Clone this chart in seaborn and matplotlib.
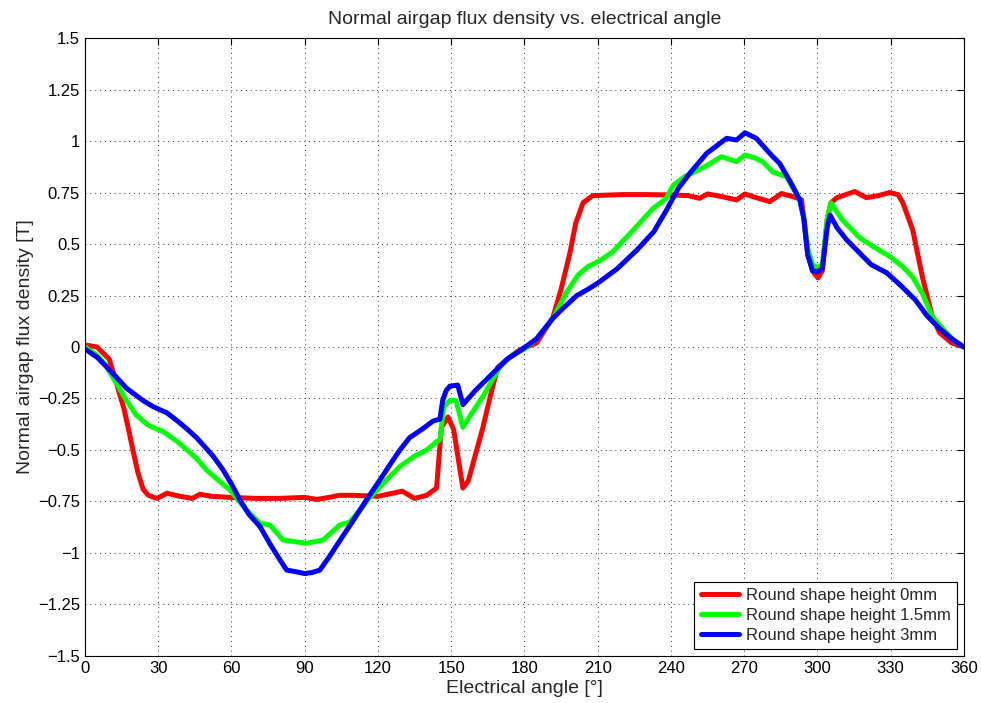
import matplotlib
matplotlib.use("Agg")
import matplotlib.pyplot as plt
import seaborn as sns
import pandas as pd

# data
angle_0mm = [0, 5, 10, 13, 16, 18.4, 20, 21.7, 23.8, 26, 29.5, 33.6, 39, 44, 47.1, 52, 59.4, 70,
             80, 90, 95, 100, 104.4, 110, 120, 130, 135, 140, 144, 146, 148.7, 151, 154.8, 157,
             160, 163, 166, 169, 175, 178, 185, 191.7, 195, 198.6, 201, 204, 208, 220, 230,
             240, 247, 251.8, 255, 261, 266.9, 270.3, 275, 280.5, 285.3, 290, 293.5, 296, 298,
             300.2, 302, 304, 305.5, 308, 315.3, 320, 325, 329.6, 333, 335, 339, 343, 347, 350,
             355, 360]
flux_0mm = [0.01, 0.0, -0.06, -0.18, -0.3, -0.43, -0.52, -0.61, -0.69, -0.72, -0.735, -0.71,
            -0.725, -0.735, -0.715, -0.725, -0.73, -0.735, -0.735, -0.73, -0.74, -0.73, -0.72,
            -0.72, -0.725, -0.70, -0.735, -0.72, -0.685, -0.39, -0.34, -0.40, -0.685, -0.65,
            -0.52, -0.39, -0.24, -0.1, -0.04, -0.015, 0.02, 0.145, 0.28, 0.455, 0.6, 0.70,
            0.735, 0.74, 0.74, 0.738, 0.735, 0.722, 0.743, 0.73, 0.714, 0.743, 0.725, 0.706,
            0.745, 0.73, 0.715, 0.45, 0.37, 0.335, 0.37, 0.62, 0.70, 0.725, 0.755, 0.725,
            0.735, 0.75, 0.74, 0.70, 0.57, 0.34, 0.15, 0.07, 0.02, 0.0]

angle_15mm = [0, 5, 8, 11.6, 16, 21, 26, 32, 38, 45.7, 49.8, 55, 59.4, 66, 71.7, 75.8, 81.2,
              86, 90.8, 97.6, 101, 104.4, 108.5, 112, 116, 120, 124, 129, 135, 140, 144, 145.4,
              147, 149.5, 152, 154.8, 158, 163, 170, 175, 180, 185, 192, 197, 202, 206, 211,
              216, 224, 232.7, 238, 241, 246, 251.8, 256, 260.7, 266.9, 270.3, 274, 277.6,
              281.7, 287.3, 292.8, 294.5, 296, 298, 300, 302, 304, 305.5, 310, 317.4, 324,
              329.6, 335, 339, 343, 347, 352, 356, 360]
flux_15mm = [0.0, -0.04, -0.08, -0.15, -0.24, -0.33, -0.38, -0.41, -0.46, -0.54, -0.597, -0.65,
             -0.694, -0.79, -0.856, -0.864, -0.937, -0.945, -0.953, -0.937, -0.90, -0.864, -0.85,
             -0.80, -0.74, -0.69, -0.64, -0.58, -0.53, -0.50, -0.46, -0.45, -0.29, -0.26, -0.26,
             -0.39, -0.33, -0.24, -0.095, -0.04, -0.01, 0.04, 0.145, 0.26, 0.35, 0.39, 0.42,
             0.46, 0.56, 0.673, 0.72, 0.786, 0.83, 0.862, 0.89, 0.924, 0.90, 0.932, 0.92, 0.90,
             0.85, 0.827, 0.714, 0.62, 0.48, 0.40, 0.385, 0.40, 0.62, 0.70, 0.62, 0.53, 0.48,
             0.44, 0.39, 0.34, 0.26, 0.15, 0.08, 0.03, 0.0]

angle_3mm = [0, 5, 11.6, 17, 23.8, 28, 33.6, 38, 42, 45.7, 48, 52.5, 56.6, 60, 63.5, 67, 71.7,
             76, 79.9, 82.6, 86, 90, 93, 96.2, 100, 104.4, 110, 116, 120, 125, 129, 133, 138,
             142.5, 145.4, 146.5, 148, 149.5, 152.7, 154.8, 160, 166, 172.8, 178, 185, 191.7,
             196, 201.5, 206, 210, 218, 226, 233, 238.2, 243, 247.7, 254.6, 258, 262.8, 266.9,
             270.3, 275, 280.5, 284.6, 289, 292.8, 294.5, 296, 298, 300, 302, 304, 305.2, 308,
             312, 317.4, 322, 328.4, 334, 340, 345, 350, 355, 360]
flux_3mm = [-0.01, -0.05, -0.13, -0.2, -0.26, -0.29, -0.32, -0.36, -0.40, -0.44, -0.47, -0.53,
            -0.597, -0.665, -0.743, -0.81, -0.872, -0.96, -1.034, -1.083, -1.09, -1.10, -1.095,
            -1.083, -1.02, -0.94, -0.84, -0.73, -0.66, -0.57, -0.50, -0.44, -0.40, -0.36,
            -0.35, -0.26, -0.21, -0.19, -0.185, -0.28, -0.21, -0.14, -0.06, -0.02, 0.04, 0.14,
            0.19, 0.25, 0.28, 0.31, 0.38, 0.47, 0.56, 0.665, 0.77, 0.843, 0.94, 0.97, 1.013,
            1.005, 1.04, 1.013, 0.94, 0.89, 0.80, 0.714, 0.62, 0.45, 0.37, 0.365, 0.38, 0.58,
            0.64, 0.58, 0.52, 0.455, 0.40, 0.36, 0.30, 0.23, 0.15, 0.09, 0.04, 0.0]

labels = ["Round shape height 0mm", "Round shape height 1.5mm", "Round shape height 3mm"]
colors = ["#ff0000", "#00ff00", "#0000ff"]

df = pd.concat([
    pd.DataFrame({"angle": angle_0mm, "flux": flux_0mm, "series": labels[0]}),
    pd.DataFrame({"angle": angle_15mm, "flux": flux_15mm, "series": labels[1]}),
    pd.DataFrame({"angle": angle_3mm, "flux": flux_3mm, "series": labels[2]}),
], ignore_index=True)

x_ticks = list(range(0, 361, 30))
y_ticks = [-1.5, -1.25, -1, -0.75, -0.5, -0.25, 0, 0.25, 0.5, 0.75, 1, 1.25, 1.5]
y_tick_labels = ["\u22121.5", "\u22121.25", "\u22121", "\u22120.75", "\u22120.5", "\u22120.25", "0",
                 "0.25", "0.5", "0.75", "1", "1.25", "1.5"]

sns.set_style("white")
plt.rcParams["font.family"] = ["Liberation Sans", "DejaVu Sans"]

fig = plt.figure(figsize=(9.81, 7.03), dpi=100)
ax = fig.add_axes([0.0866, 0.0669, 0.896, 0.879])

sns.lineplot(data=df, x="angle", y="flux", hue="series", palette=colors,
             sort=False, estimator=None, linewidth=3.6, ax=ax)

ax.set_xlim(0, 360)
ax.set_ylim(-1.5, 1.5)
ax.set_xticks(x_ticks)
ax.set_yticks(y_ticks)
ax.set_yticklabels(y_tick_labels)
ax.tick_params(direction="in", top=True, right=True, length=5, width=0.8,
               labelsize=12, colors="black", pad=3.5)
ax.grid(True, linestyle=(0, (1, 4)), color="#333333", linewidth=0.7)
for s in ax.spines.values():
    s.set_color("black")
    s.set_linewidth(0.8)

ax.set_xlabel("Electrical angle [°]", fontsize=14, labelpad=3)
ax.set_ylabel("Normal airgap flux density [T]", fontsize=14, labelpad=3)
ax.set_title("Normal airgap flux density vs. electrical angle", fontsize=14, pad=10)

leg = ax.legend(loc="lower right", fontsize=12, frameon=True, fancybox=False,
                edgecolor="black", framealpha=1, borderpad=0.4, labelspacing=0.28,
                handlelength=2.3, handletextpad=0.4, borderaxespad=0.4)
leg.get_frame().set_linewidth(0.8)
for line in leg.get_lines():
    line.set_linewidth(3.6)

fig.savefig("out.png", dpi=100)
